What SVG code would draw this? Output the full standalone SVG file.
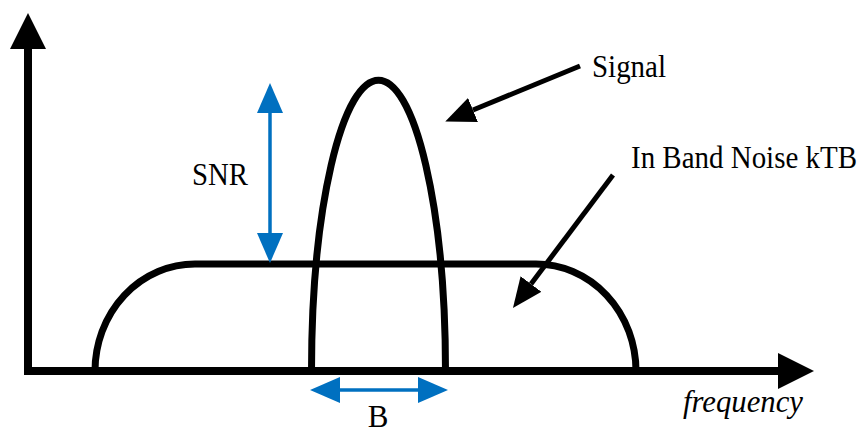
<svg xmlns="http://www.w3.org/2000/svg" width="864" height="433" viewBox="0 0 864 433">
<style>
.axis{stroke:#000;stroke-width:8;fill:none}
.curve{stroke:#000;stroke-width:7;fill:none}
.ptr{stroke:#000;stroke-width:5;fill:none}
.blue{stroke:#0070C0;stroke-width:3.5;fill:none}
.lbl{font-family:'Liberation Serif','Times New Roman','DejaVu Serif',serif;font-size:31px;fill:#000}
</style>
<defs>
<marker id="axisHead" markerUnits="userSpaceOnUse" markerWidth="36" markerHeight="36" refX="0" refY="18" orient="auto"><path d="M0,0 L36,18 L0,36 z" fill="#000"/></marker>
<marker id="blackHead" markerUnits="userSpaceOnUse" markerWidth="30" markerHeight="26" refX="0" refY="13" orient="auto"><path d="M0,0 L30,13 L0,26 z" fill="#000"/></marker>
<marker id="blueHead" markerUnits="userSpaceOnUse" markerWidth="30" markerHeight="26" refX="0" refY="13" orient="auto-start-reverse"><path d="M0,0 L30,13 L0,26 z" fill="#0070C0"/></marker>
</defs>
<g id="axes">
<line class="axis" x1="28" y1="375" x2="28" y2="49" marker-end="url(#axisHead)"/>
<line class="axis" x1="24" y1="371" x2="778" y2="371" marker-end="url(#axisHead)"/>
</g>
<g id="noise">
<path class="curve" d="M95,371 A100,107 0 0 1 195,264 L536,264 A100,107 0 0 1 636,371"/>
</g>
<g id="signal">
<path class="curve" d="M311.5,371 A67,291 0 0 1 445.5,371"/>
</g>
<g id="connectors">
<line class="blue" x1="270" y1="113" x2="270" y2="233" marker-start="url(#blueHead)" marker-end="url(#blueHead)"/>
<line class="blue" x1="340" y1="390" x2="418" y2="390" marker-start="url(#blueHead)" marker-end="url(#blueHead)"/>
<line class="ptr" x1="580" y1="66" x2="473" y2="110" marker-end="url(#blackHead)"/>
<line class="ptr" x1="613" y1="175" x2="531" y2="284" marker-end="url(#blackHead)"/>
</g>
<g id="labels">
<text class="lbl" x="192" y="185" textLength="56" lengthAdjust="spacingAndGlyphs">SNR</text>
<text class="lbl" x="592" y="77" textLength="74" lengthAdjust="spacingAndGlyphs">Signal</text>
<text class="lbl" x="631" y="168" font-size="29" textLength="226" lengthAdjust="spacingAndGlyphs">In Band Noise kTB</text>
<text class="lbl" x="378" y="427" text-anchor="middle">B</text>
<text class="lbl" x="683" y="412" font-style="italic" textLength="120" lengthAdjust="spacingAndGlyphs">frequency</text>
</g>
</svg>
